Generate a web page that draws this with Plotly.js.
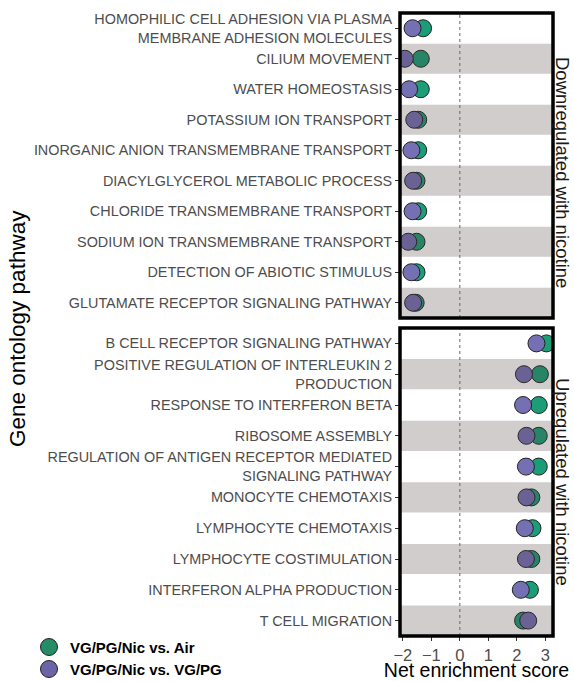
<!DOCTYPE html>
<html>
<head>
<meta charset="utf-8">
<script src="https://cdn.plot.ly/plotly-3.0.1.min.js"></script>
<style>html,body{margin:0;padding:0;background:#fff;}#chart{width:574px;height:681px;}</style>
</head>
<body>
<div id="chart"></div>
<script>
// Pathways (top to bottom) and net enrichment scores
const categoriesDown = [
  "HOMOPHILIC CELL ADHESION VIA PLASMA<br>MEMBRANE ADHESION MOLECULES",
  "CILIUM MOVEMENT",
  "WATER HOMEOSTASIS",
  "POTASSIUM ION TRANSPORT",
  "INORGANIC ANION TRANSMEMBRANE TRANSPORT",
  "DIACYLGLYCEROL METABOLIC PROCESS",
  "CHLORIDE TRANSMEMBRANE TRANSPORT",
  "SODIUM ION TRANSMEMBRANE TRANSPORT",
  "DETECTION OF ABIOTIC STIMULUS",
  "GLUTAMATE RECEPTOR SIGNALING PATHWAY"
];
const airDown  = [-1.29, -1.37, -1.37, -1.46, -1.46, -1.52, -1.46, -1.52, -1.52, -1.55];
const vgpgDown = [-1.66, -1.93, -1.78, -1.60, -1.70, -1.64, -1.66, -1.81, -1.70, -1.64];

const categoriesUp = [
  "B CELL RECEPTOR SIGNALING PATHWAY",
  "POSITIVE REGULATION OF INTERLEUKIN 2<br>PRODUCTION",
  "RESPONSE TO INTERFERON BETA",
  "RIBOSOME ASSEMBLY",
  "REGULATION OF ANTIGEN RECEPTOR MEDIATED<br>SIGNALING PATHWAY",
  "MONOCYTE CHEMOTAXIS",
  "LYMPHOCYTE CHEMOTAXIS",
  "LYMPHOCYTE COSTIMULATION",
  "INTERFERON ALPHA PRODUCTION",
  "T CELL MIGRATION"
];
const airUp  = [3.04, 2.81, 2.77, 2.77, 2.77, 2.51, 2.55, 2.51, 2.46, 2.22];
const vgpgUp = [2.69, 2.25, 2.22, 2.34, 2.32, 2.34, 2.28, 2.32, 2.14, 2.40];

const seriesNames = ["VG/PG/Nic vs. Air", "VG/PG/Nic vs. VG/PG"];
const stripLabels = ["Downregulated with nicotine", "Upregulated with nicotine"];
const xTicks = [-2, -1, 0, 1, 2, 3];

const GREEN = "#1b9e77", PURPLE = "#7570b3";
const LEGEND_GREEN = "#258c68", LEGEND_PURPLE = "#6b64a6";
const FONT = "Liberation Sans, Arial, sans-serif";

function mk(color) {
  return {size: 17, color: color, line: {color: "#222", width: 1}};
}

const traces = [
  {x: airDown, y: categoriesDown, xaxis: "x", yaxis: "y", type: "scatter", mode: "markers",
   name: seriesNames[0], marker: mk(GREEN), showlegend: false},
  {x: airUp, y: categoriesUp, xaxis: "x", yaxis: "y2", type: "scatter", mode: "markers",
   name: seriesNames[0], marker: mk(GREEN), showlegend: false},
  {x: vgpgDown, y: categoriesDown, xaxis: "x", yaxis: "y", type: "scatter", mode: "markers",
   name: seriesNames[1], marker: mk(PURPLE), showlegend: false},
  {x: vgpgUp, y: categoriesUp, xaxis: "x", yaxis: "y2", type: "scatter", mode: "markers",
   name: seriesNames[1], marker: mk(PURPLE), showlegend: false}
];

const plotL = 400, plotR = 553, plotT = 13, plotB = 636, W = 574, H = 681;
const pw = plotR - plotL, ph = plotB - plotT;
const px2x = p => (p - plotL) / pw;
const py2y = p => (plotB - p) / ph;

const shapes = [];
[["y", categoriesDown], ["y2", categoriesUp]].forEach(([ax, cats]) => {
  cats.forEach((c, i) => {
    if (i % 2 === 1) {
      shapes.push({type: "rect", xref: "x domain", yref: ax, x0: 0, x1: 1, y0: i - 0.49, y1: i + 0.49,
        fillcolor: "rgba(75,55,55,0.25)", line: {width: 0}, layer: "above"});
    }
  });
  shapes.push({type: "line", xref: "x", yref: ax + " domain", x0: 0, x1: 0, y0: 0, y1: 1,
    line: {color: "#666", width: 1, dash: "dot"}, layer: "above"});
  shapes.push({type: "rect", xref: "x domain", yref: ax + " domain", x0: 0, x1: 1, y0: 0, y1: 1,
    line: {color: "#000", width: 3.5}, fillcolor: "rgba(0,0,0,0)", layer: "above"});
});

// legend (drawn manually in the bottom-left margin)
const legendItems = [[seriesNames[0], LEGEND_GREEN, 647], [seriesNames[1], LEGEND_PURPLE, 669]];
const annotations = [];
legendItems.forEach(([name, color, py]) => {
  shapes.push({type: "circle", xref: "paper", yref: "paper", xsizemode: "pixel", ysizemode: "pixel",
    xanchor: px2x(49), yanchor: py2y(py), x0: -8.5, x1: 8.5, y0: -8.5, y1: 8.5,
    fillcolor: color, line: {color: "#222", width: 1}});
  annotations.push({text: "<b>" + name + "</b>", xref: "paper", yref: "paper", x: px2x(68), y: py2y(py),
    xanchor: "left", yanchor: "middle", showarrow: false,
    font: {family: FONT, size: 15, color: "#000"}});
});

annotations.push(
  {text: "Gene ontology pathway", xref: "paper", yref: "paper", x: px2x(17), y: py2y(329),
   textangle: -90, showarrow: false, xanchor: "center", yanchor: "middle",
   font: {family: FONT, size: 22.5, color: "#000"}},
  {text: stripLabels[0], xref: "paper", yref: "paper", x: px2x(563), y: py2y(172),
   textangle: 90, showarrow: false, xanchor: "center", yanchor: "middle",
   font: {family: FONT, size: 18.5, color: "#1a1a1a"}},
  {text: stripLabels[1], xref: "paper", yref: "paper", x: px2x(563), y: py2y(482),
   textangle: 90, showarrow: false, xanchor: "center", yanchor: "middle",
   font: {family: FONT, size: 18.5, color: "#1a1a1a"}}
);

const yaxisCommon = {
  type: "category", showgrid: false, zeroline: false, showline: false,
  ticks: "outside", ticklen: 4, tickcolor: "#333", tickwidth: 1,
  tickfont: {family: FONT, size: 14.4, color: "#4d4d4d"}, automargin: false
};

const layout = {
  width: W, height: H,
  margin: {l: plotL, r: W - plotR, t: plotT, b: H - plotB, pad: 0},
  paper_bgcolor: "#fff", plot_bgcolor: "#fff",
  showlegend: false,
  xaxis: {anchor: "y2", range: [-2.1, 3.27], tickvals: xTicks,
    ticktext: xTicks.map(v => v < 0 ? "\u2212" + Math.abs(v) : String(v)),
    showgrid: false, zeroline: false, showline: false,
    ticks: "outside", ticklen: 4, tickcolor: "#333", tickwidth: 1,
    tickfont: {family: FONT, size: 16.5, color: "#4d4d4d"},
    title: {text: "Net enrichment score", font: {family: FONT, size: 19.5, color: "#000"}, standoff: 6},
    automargin: false},
  yaxis: Object.assign({}, yaxisCommon, {domain: [(plotB - 318) / ph, 1], range: [9.5, -0.5], anchor: "x"}),
  yaxis2: Object.assign({}, yaxisCommon, {domain: [0, (plotB - 328) / ph], range: [9.5, -0.5], anchor: "x"}),
  shapes: shapes,
  annotations: annotations
};

Plotly.newPlot("chart", traces, layout, {displayModeBar: false, staticPlot: true});
</script>
</body>
</html>
